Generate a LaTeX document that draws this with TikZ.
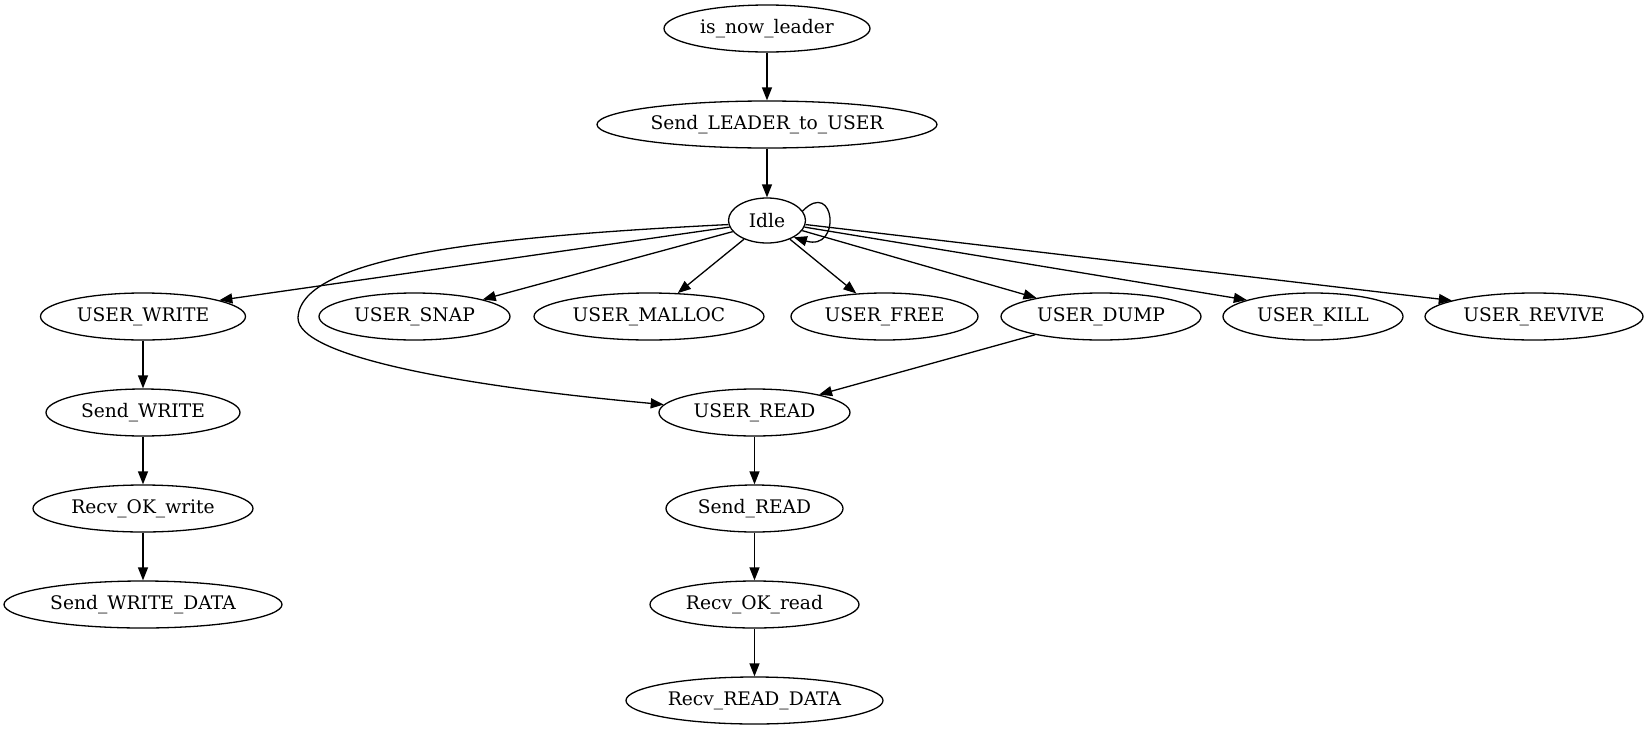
\documentclass[tikz,border=0pt]{standalone}
\usepackage{fontspec}
\setmainfont{DejaVu Serif}
\usetikzlibrary{shapes.geometric,arrows.meta}
\newcommand\nlab[1]{\makebox[0pt]{#1}}
\begin{document}
\begin{tikzpicture}[x=1pt,y=-1pt,
  st/.style={draw, ellipse, inner sep=0pt, minimum height=47pt, line width=1.3pt,
             font=\fontsize{18.67}{22}\selectfont},
  arr/.style={line width=1.3pt, -{Triangle[length=13pt,width=10pt]}}]
\useasboundingbox (0,0) rectangle (1647,731);
% rows
\node[st, minimum width=206pt] (isnow) at (767,28.5) {\nlab{is\_now\_leader}};
\node[st, minimum width=340pt] (slu) at (767,124.5) {\nlab{Send\_LEADER\_to\_USER}};
\node[st, minimum width=77pt, minimum height=45pt] (idle) at (767,220.5) {\nlab{Idle}};
\node[st, minimum width=205pt] (uwrite) at (143,316.5) {\nlab{USER\_WRITE}};
\node[st, minimum width=191pt] (usnap) at (414.5,316.5) {\nlab{USER\_SNAP}};
\node[st, minimum width=230pt] (umalloc) at (649,316.5) {\nlab{USER\_MALLOC}};
\node[st, minimum width=187pt] (ufree) at (884.5,316.5) {\nlab{USER\_FREE}};
\node[st, minimum width=200pt] (udump) at (1101,316.5) {\nlab{USER\_DUMP}};
\node[st, minimum width=180pt] (ukill) at (1313,316.5) {\nlab{USER\_KILL}};
\node[st, minimum width=218pt] (urevive) at (1534,316.5) {\nlab{USER\_REVIVE}};
\node[st, minimum width=194pt] (swrite) at (143,412.5) {\nlab{Send\_WRITE}};
\node[st, minimum width=191pt] (uread) at (754.5,412.5) {\nlab{USER\_READ}};
\node[st, minimum width=220pt] (rokw) at (143,508.5) {\nlab{Recv\_OK\_write}};
\node[st, minimum width=177pt] (sread) at (754.5,508.5) {\nlab{Send\_READ}};
\node[st, minimum width=278pt] (swd) at (143,604.5) {\nlab{Send\_WRITE\_DATA}};
\node[st, minimum width=209pt] (rokr) at (754.5,604.5) {\nlab{Recv\_OK\_read}};
\node[st, minimum width=257pt] (rrd) at (754.5,700.5) {\nlab{Recv\_READ\_DATA}};
\coordinate (bend) at (298,318);
% edges
\draw[arr] (isnow) -- (slu);
\draw[arr] (slu) -- (idle);
\draw[arr] (idle.15) .. controls (835,178) and (842,252) .. (idle.-32);
\draw[arr] (idle.186) .. controls (500,236) and (300,255) .. (bend)
           .. controls (298,355) and (450,385) .. (uread.175);
\draw[arr] (idle.190) -- (uwrite.12);
\draw[arr] (idle.198) -- (usnap.14);
\draw[arr] (idle) -- (umalloc);
\draw[arr] (idle) -- (ufree);
\draw[arr] (idle) -- (udump);
\draw[arr] (idle.-10) -- (ukill.166);
\draw[arr] (idle.-6) -- (urevive.169);
\draw[arr] (udump) -- (uread);
\draw[arr] (uwrite) -- (swrite);
\draw[arr] (swrite) -- (rokw);
\draw[arr] (rokw) -- (swd);
\draw[arr] (uread) -- (sread);
\draw[arr] (sread) -- (rokr);
\draw[arr] (rokr) -- (rrd);
\end{tikzpicture}
\end{document}
